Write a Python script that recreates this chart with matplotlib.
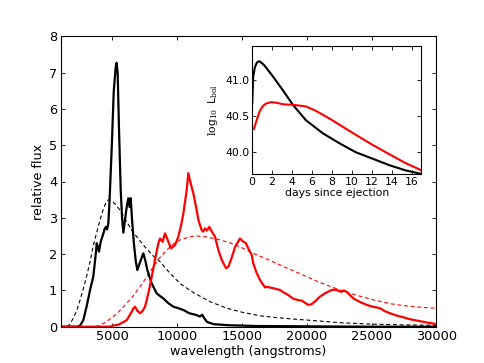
import matplotlib
matplotlib.use("Agg")
import matplotlib.pyplot as plt

# ---- main panel data (wavelength in angstroms, relative flux) ----
wave_black = [1000, 2300, 2500, 2750, 3000, 3270, 3520, 3650, 3730, 3785, 3870, 3960, 4100, 4300,
              4400, 4500, 4580, 4680, 4750, 4810, 4950, 5100, 5250, 5320, 5400, 5500, 5635, 5740,
              5840, 5950, 6100, 6225, 6320, 6410, 6500, 6650, 6800, 6920, 7050, 7200, 7380, 7550,
              7690, 8030, 8410, 8650, 8920, 9300, 9700, 10000, 10470, 10930, 11400, 11750, 11930,
              12050, 12300, 12800, 14000, 16000, 20000, 25000, 30000]
flux_black = [0, 0, 0.03, 0.18, 0.55, 1.01, 1.38, 1.8, 2.07, 2.30, 2.2, 2.07, 2.35, 2.57,
              2.7, 2.75, 2.68, 2.85, 3.3, 3.77, 5.0, 6.5, 7.15, 7.27, 7.0, 5.5, 3.77, 3.0,
              2.59, 2.9, 3.3, 3.54, 3.3, 3.54, 3.0, 2.3, 1.8, 1.56, 1.7, 1.85, 2.02, 1.8,
              1.56, 1.19, 0.92, 0.85, 0.78, 0.65, 0.55, 0.52, 0.46, 0.37, 0.33, 0.28, 0.33,
              0.25, 0.13, 0.07, 0.04, 0.02, 0.01, 0.0, 0.0]

wave_black_bb = [1500, 1700, 2000, 2250, 2500, 2750, 3000, 3270, 3500, 3750, 4040, 4300, 4500,
                 4700, 4900, 5200, 5580, 6000, 6500, 6870, 7500, 8150, 8670, 9440, 10210, 11240,
                 12530, 13810, 15100, 16380, 17670, 18950, 20110, 22560, 25000, 27500, 30000]
flux_black_bb = [0.0, 0.06, 0.25, 0.45, 0.73, 1.05, 1.38, 1.79, 2.2, 2.55, 2.94, 3.25, 3.42,
                 3.5, 3.48, 3.38, 3.21, 2.95, 2.65, 2.48, 2.2, 1.95, 1.79, 1.47, 1.19, 0.94,
                 0.69, 0.51, 0.39, 0.30, 0.25, 0.21, 0.18, 0.11, 0.07, 0.05, 0.04]

wave_red = [1000, 4800, 5070, 5500, 6100, 6300, 6480, 6600, 6740, 6900, 7130, 7300, 7510, 7770,
            8030, 8280, 8540, 8670, 8870, 9050, 9200, 9310, 9520, 9830, 10080, 10300, 10470,
            10730, 10850, 11000, 11240, 11450, 11630, 11880, 12000, 12140, 12300, 12470, 12660,
            12910, 13170, 13430, 13760, 13940, 14200, 14460, 14840, 15100, 15300, 15480, 15740,
            15860, 16100, 16380, 16770, 16900, 17410, 17930, 18180, 18570, 18950, 19340, 19600,
            19850, 20110, 20370, 20700, 21010, 21400, 21780, 22000, 22300, 22500, 22690, 22850,
            23070, 23300, 23590, 24100, 24620, 25100, 25640, 26000, 26410, 26900, 27440, 27900,
            28470, 29200, 30000]
flux_red = [0, 0, 0.03, 0.06, 0.18, 0.3, 0.41, 0.5, 0.55, 0.45, 0.37, 0.42, 0.55, 0.92,
            1.38, 1.84, 2.30, 2.43, 2.34, 2.57, 2.45, 2.34, 2.16, 2.25, 2.48, 2.8, 3.12,
            3.77, 4.23, 4.0, 3.67, 3.3, 2.94, 2.66, 2.62, 2.71, 2.65, 2.75, 2.62,
            2.48, 2.11, 1.84, 1.61, 1.65, 1.9, 2.20, 2.43, 2.34, 2.3, 2.16, 1.98,
            1.75, 1.5, 1.29, 1.08, 1.10, 1.06, 1.01, 0.95, 0.87, 0.77, 0.73, 0.72,
            0.66, 0.60, 0.62, 0.72, 0.83, 0.92, 0.99, 1.02, 1.01, 0.98, 0.96, 1.0,
            0.96, 0.88, 0.78, 0.68, 0.60, 0.55, 0.51, 0.43, 0.37, 0.31, 0.26, 0.21,
            0.17, 0.12, 0.07]

wave_red_bb = [3700, 4040, 4500, 5070, 5500, 6100, 6600, 7130, 7600, 8150, 8600, 9180, 9700,
               10210, 10980, 11500, 12300, 13300, 14000, 14840, 15860, 17000, 18430, 19990,
               21000, 22560, 24000, 25130, 26500, 27700, 29000, 30000]
flux_red_bb = [0.0, 0.05, 0.13, 0.28, 0.42, 0.64, 0.85, 1.10, 1.35, 1.65, 1.88, 2.11, 2.28,
               2.39, 2.48, 2.50, 2.47, 2.39, 2.32, 2.20, 2.02, 1.85, 1.62, 1.38,
               1.22, 1.01, 0.85, 0.74, 0.63, 0.57, 0.53, 0.51]

# ---- inset data (days since ejection, log10 L_bol) ----
days_black = [0.0, 0.1, 0.27, 0.45, 0.6, 0.77, 1.2, 2.1, 3.1, 4.1, 5.4, 7.1, 8.8, 10.4,
              12.1, 13.8, 15.4, 17.0]
logL_black = [40.67, 41.04, 41.17, 41.23, 41.25, 41.25, 41.2, 41.04, 40.85, 40.65, 40.44,
              40.26, 40.12, 40.00, 39.91, 39.82, 39.75, 39.70]
days_red = [0.17, 0.4, 0.77, 1.1, 1.4, 1.9, 2.5, 3.1, 4.3, 5.4, 6.4, 7.8, 9.1, 10.4, 12.1,
            13.8, 15.4, 17.0]
logL_red = [40.32, 40.42, 40.57, 40.64, 40.67, 40.69, 40.68, 40.66, 40.65, 40.63, 40.57,
            40.46, 40.35, 40.24, 40.10, 39.97, 39.85, 39.75]

main_xticks = [5000, 10000, 15000, 20000, 25000, 30000]
main_yticks = [0, 1, 2, 3, 4, 5, 6, 7, 8]
inset_xticks = [0, 2, 4, 6, 8, 10, 12, 14, 16]
inset_yticks = [40.0, 40.5, 41.0]

plt.rcParams['font.family'] = ['DejaVu Sans']
plt.rcParams['mathtext.fontset'] = 'custom'
plt.rcParams['mathtext.rm'] = 'DejaVu Serif'
plt.rcParams['mathtext.it'] = 'DejaVu Serif:italic'

fig = plt.figure(figsize=(4.85, 3.63), dpi=100)
ax = fig.add_axes([0.125, 0.1, 0.775, 0.8])

ax.plot(wave_black_bb, flux_black_bb, color='black', lw=0.8, dashes=(3.5, 2.5))
ax.plot(wave_red_bb, flux_red_bb, color='red', lw=0.8, dashes=(3.5, 2.5))
ax.plot(wave_black, flux_black, color='black', lw=1.6)
ax.plot(wave_red, flux_red, color='red', lw=1.6)

ax.set_xlim(1000, 30000)
ax.set_ylim(0, 8)
ax.set_xticks(main_xticks)
ax.set_yticks(main_yticks)
ax.tick_params(direction='in', top=True, right=True, length=3, width=0.6, labelsize=9.3, pad=2.5)
for s in ax.spines.values():
    s.set_linewidth(0.8)
ax.set_xlabel('wavelength (angstroms)', fontsize=9.2, labelpad=1)
ax.set_ylabel('relative flux', fontsize=9.2, labelpad=3)

ins = fig.add_axes([0.520, 0.5207, 0.349, 0.352])
ins.plot(days_black, logL_black, color='black', lw=1.5)
ins.plot(days_red, logL_red, color='red', lw=1.5)
ins.set_xlim(0, 17)
ins.set_ylim(39.7, 41.46)
ins.set_xticks(inset_xticks)
ins.set_yticks(inset_yticks)
ins.set_yticklabels(['%.1f' % v for v in inset_yticks])
ins.tick_params(direction='in', top=True, right=True, length=3, width=0.6, labelsize=7.8, pad=2)
for s in ins.spines.values():
    s.set_linewidth(0.8)
ins.set_xlabel('days since ejection', fontsize=7.8, labelpad=1)
ins.set_ylabel(r'$\log_{10}$ L$_{\mathrm{bol}}$', fontsize=7.8, labelpad=4)

fig.savefig('out.png', dpi=100)
